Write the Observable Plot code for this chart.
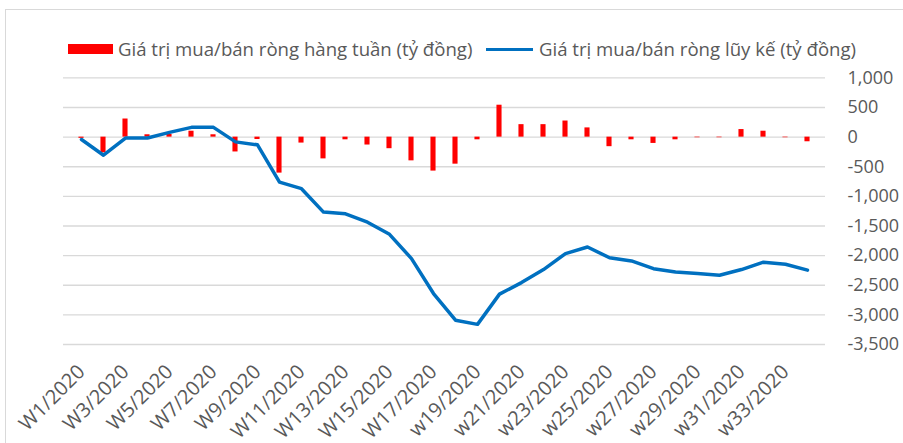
<!DOCTYPE html>
<html><head><meta charset="utf-8">
<script src="https://cdn.jsdelivr.net/npm/d3@7"></script>
<script src="https://cdn.jsdelivr.net/npm/@observablehq/plot@0.6"></script>
<style>
html,body{margin:0;padding:0;background:#fff;}
body{width:903px;height:443px;overflow:hidden;position:relative;font-family:"Open Sans",sans-serif;}
#frame{position:absolute;left:5px;top:9px;width:1000px;height:1000px;border-top:1.5px solid #d9d9d9;border-left:1.5px solid #d9d9d9;box-sizing:border-box;}
.sw{position:absolute;}
.lt{position:absolute;top:36px;font-size:18.6px;color:#595959;white-space:nowrap;line-height:26px;}
#chart{position:absolute;left:0;top:60px;}
</style>
</head><body>
<div id="frame"></div>
<div class="sw" style="left:68px;top:44px;width:45px;height:10px;background:#ff0000"></div>
<div class="lt" id="l1" style="left:118px">Giá trị mua/bán ròng hàng tuần (tỷ đồng)</div>
<div class="sw" style="left:486px;top:47.5px;width:47px;height:3.5px;background:#0070c0"></div>
<div class="lt" id="l2" style="left:539px">Giá trị mua/bán ròng lũy kế (tỷ đồng)</div>
<div id="chart"></div>
<script>
const weekLabels = ["W1/2020","W2/2020","W3/2020","W4/2020","W5/2020","W6/2020","W7/2020","W8/2020","W9/2020","W10/2020","W11/2020","W12/2020","W13/2020","W14/2020","W15/2020","W16/2020","W17/2020","W18/2020","w19/2020","w20/2020","w21/2020","w22/2020","w23/2020","w24/2020","w25/2020","w26/2020","w27/2020","w28/2020","w29/2020","w30/2020","w31/2020","w32/2020","w33/2020","w34/2020"];
const weeklyNet = [-20,-265,306,40,45,100,40,-250,-40,-607,-100,-367,-45,-133,-195,-400,-573,-456,-45,539,211,211,272,156,-161,-45,-106,-45,-10,-10,128,100,-10,-78];
const cumulativeNet = [-40,-305,-15,-15,80,165,165,-80,-130,-760,-870,-1265,-1295,-1435,-1640,-2050,-2640,-3090,-3160,-2650,-2455,-2235,-1965,-1855,-2035,-2090,-2220,-2275,-2300,-2330,-2235,-2110,-2145,-2245];
const yTicks = [1000,500,0,-500,-1000,-1500,-2000,-2500,-3000,-3500];

const data = weekLabels.map((w,i)=>({week:w, net:weeklyNet[i], cum:cumulativeNet[i]}));
const shown = new Set(weekLabels.filter((_,i)=>i%2===0));

const chart = Plot.plot({
  width:903, height:383,
  marginTop:17.4, marginBottom:99, marginLeft:63, marginRight:78,
  style:{fontFamily:'"Open Sans", sans-serif', fontSize:"18px", color:"#595959", background:"transparent", overflow:"visible"},
  x:{type:"band", domain:weekLabels, padding:0, label:null, tickSize:0, tickRotate:-45, tickPadding:24, tickFormat:d=>shown.has(d)?d:""},
  y:{domain:[-3500,1000], ticks:yTicks, label:null, axis:"right", tickSize:0, tickPadding:22, tickFormat:d=>d.toLocaleString("en-US")},
  marks:[
    Plot.ruleY(yTicks,{stroke:"#d9d9d9", strokeWidth:1.4}),
    Plot.barY(data,{x:"week", y:"net", fill:"#ff0000", insetLeft:8.45, insetRight:8.45}),
    Plot.lineY(data,{x:"week", y:"cum", stroke:"#0070c0", strokeWidth:3.5, strokeLinejoin:"round"})
  ]
});
d3.select(chart).selectAll('g[aria-label^="x-axis"]').attr("font-size", 20).selectAll("text").attr("font-size", 20);
document.getElementById("chart").appendChild(chart);
</script>
</body></html>
